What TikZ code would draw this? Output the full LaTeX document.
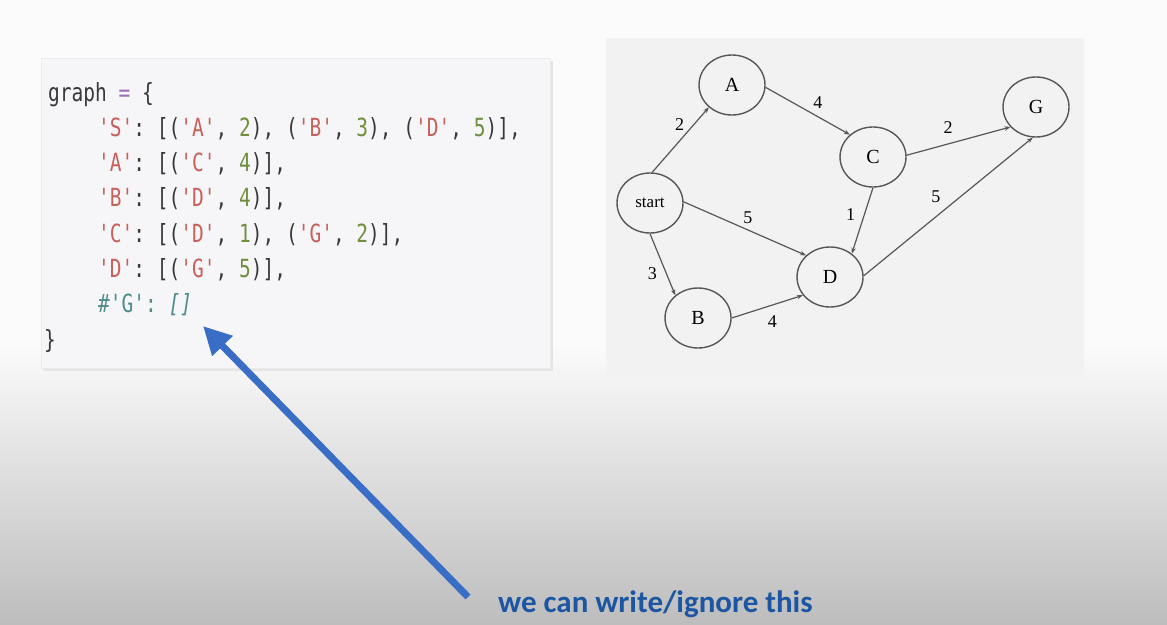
\documentclass[tikz,border=0pt]{standalone}
\usepackage{fontspec}
\setmainfont{Liberation Serif}
\setmonofont{DejaVu Sans Mono}[FakeStretch=0.78]
\newfontfamily\notefont{Carlito}
\usetikzlibrary{shapes.geometric,arrows.meta}

\definecolor{pagewhite}{HTML}{FBFBFB}
\definecolor{pagegray}{HTML}{BDBDBD}
\definecolor{codebg}{HTML}{F6F6F8}
\definecolor{graphbg}{HTML}{F2F2F2}
\definecolor{codetext}{HTML}{383838}
\definecolor{codeop}{HTML}{9B6FB5}
\definecolor{codestr}{HTML}{C8605A}
\definecolor{codenum}{HTML}{6F8F3F}
\definecolor{codecom}{HTML}{4F8A8A}
\definecolor{edgegray}{HTML}{575757}
\definecolor{pointer}{HTML}{3A6EC6}
\definecolor{notetext}{HTML}{1C56A2}

\newcommand\kstr[1]{\textcolor{codestr}{#1}}
\newcommand\knum[1]{\textcolor{codenum}{#1}}

\tikzset{
  codeline/.style={anchor=base west, inner sep=0pt, text=codetext,
    font=\ttfamily\fontsize{25}{30}\selectfont},
  vertex/.style={ellipse, draw=edgegray, line width=1.4pt, fill=graphbg,
    minimum width=66pt, minimum height=60pt, inner sep=0pt,
    font=\fontsize{20}{23}\selectfont},
  arc/.style={draw=edgegray, line width=1.2pt,
    -{Stealth[length=6pt,width=4.5pt]}},
  lbl/.style={font=\fontsize{18}{20}\selectfont, inner sep=0pt},
  pointerarrow/.style={draw=pointer, line width=7pt,
    -{Triangle[length=28pt,width=27pt]}},
  note/.style={text=notetext, inner sep=0pt,
    font=\notefont\bfseries\fontsize{31}{34}\selectfont}
}

\begin{document}
\begin{tikzpicture}[x=1pt,y=-1pt]
\useasboundingbox (0,0) rectangle (1167,624);

% page background with a soft grey fade at the bottom
\fill[pagewhite] (0,0) rectangle (1167,624);
\shade[top color=pagewhite, bottom color=pagegray] (0,345) rectangle (1167,624);

% code panel
\fill[black!10] (43,61) rectangle (553,371);
\fill[codebg, draw=black!8] (41,58) rectangle (550,368);

% graph panel
\fill[graphbg] (606,38) rectangle (1084,378);

% python dictionary listing
\node[codeline] (l0) at (48,101) {graph \textcolor{codeop}{=} \{};
\node[codeline] (l1) at (98,136.3) {\kstr{'S'}: [(\kstr{'A'}, \knum{2}), (\kstr{'B'}, \knum{3}), (\kstr{'D'}, \knum{5})],};
\node[codeline] (l2) at (98,171.6) {\kstr{'A'}: [(\kstr{'C'}, \knum{4})],};
\node[codeline] (l3) at (98,206.9) {\kstr{'B'}: [(\kstr{'D'}, \knum{4})],};
\node[codeline] (l4) at (98,242.2) {\kstr{'C'}: [(\kstr{'D'}, \knum{1}), (\kstr{'G'}, \knum{2})],};
\node[codeline] (l5) at (98,277.5) {\kstr{'D'}: [(\kstr{'G'}, \knum{5})],};
\node[codeline, text=codecom] (l6) at (98,312.8) {\#'G': \itshape []};
\node[codeline] (l7) at (44,348.1) {\}};

% weighted graph
\node[vertex] (A) at (732,85) {A};
\node[vertex] (C) at (873,157) {C};
\node[vertex] (G) at (1036,107) {G};
\node[vertex, font=\fontsize{17}{19}\selectfont] (S) at (650,203) {start};
\node[vertex] (D) at (830,277) {D};
\node[vertex] (B) at (698,318) {B};

\draw[arc] (S.86) -- (A.224) node[lbl, pos=0.73, xshift=-14pt] {2};
\draw[arc] (A.356) -- (C.136) node[lbl, pos=0.62, yshift=14pt] {4};
\draw[arc] (C.3) -- (G.218) node[lbl, pos=0.4, yshift=16pt] {2};
\draw[arc] (S.2) -- (D.138) node[lbl, pos=0.525, yshift=12pt] {5};
\draw[arc] (C.270) -- (D.47) node[lbl, pos=0.4, xshift=-14pt] {1};
\draw[arc] (D.2) -- (G.264) node[lbl, pos=0.45, xshift=-4pt, yshift=17pt] {5};
\draw[arc] (S.270) -- (B.135) node[lbl, pos=0.645, xshift=-14pt] {3};
\draw[arc] (B.0) -- (D.214) node[lbl, pos=0.57, yshift=-17pt] {4};

% annotation
\node[note, anchor=west] (note) at (498,604) {we can write/ignore this};
\coordinate (tail) at (468,597);
\coordinate (tip) at (203,326);
\draw[pointerarrow] (tail) -- (tip);
\end{tikzpicture}
\end{document}
